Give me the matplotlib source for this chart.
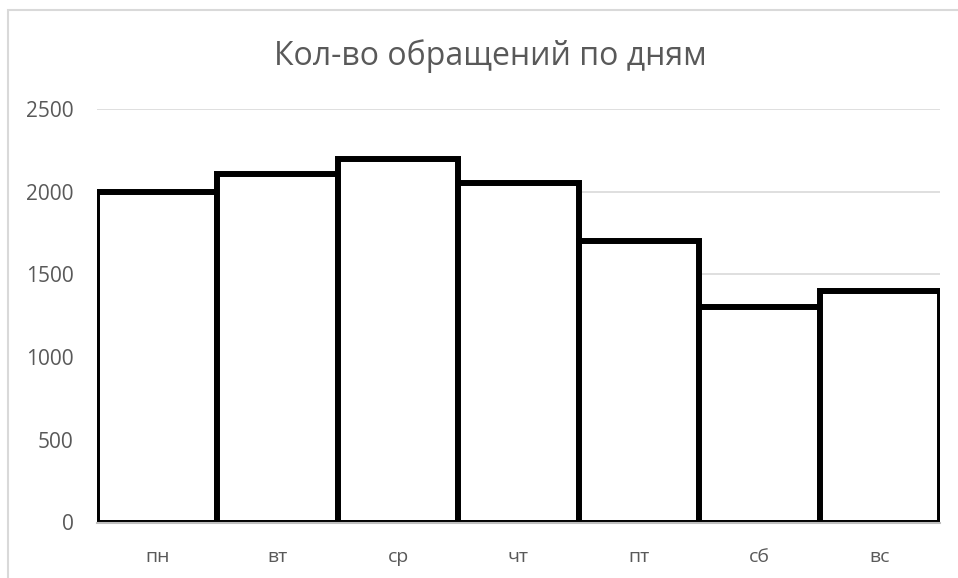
import matplotlib
matplotlib.use("Agg")
import matplotlib.pyplot as plt
from matplotlib.patches import Rectangle

plt.rcParams['font.family'] = ['Open Sans', 'DejaVu Sans']

days = ['пн', 'вт', 'ср', 'чт', 'пт', 'сб', 'вс']
calls = [2000, 2110, 2200, 2050, 1700, 1300, 1400]
y_ticks = [0, 500, 1000, 1500, 2000, 2500]

grey_text = '#595959'

fig = plt.figure(figsize=(9.58, 5.78), dpi=100)
# рамка области диаграммы
fig.patches.append(Rectangle((8 / 958, -0.1), 1.2, (578 - 10) / 578 + 0.1,
                             transform=fig.transFigure, fill=False,
                             edgecolor='#d9d9d9', linewidth=1.5, zorder=0))

ax = fig.add_axes([97 / 958, (578 - 522.5) / 578, (940 - 97) / 958, (522.5 - 109) / 578])

ax.bar(range(len(days)), calls, width=1.0, color='white', edgecolor='black',
       linewidth=4.3, zorder=3)

ax.set_xlim(-0.5, 6.5)
ax.set_ylim(0, 2500)
ax.set_yticks(y_ticks)
ax.set_xticks(range(len(days)))
ax.set_xticklabels(days)
ax.grid(axis='y', color='#d9d9d9', linewidth=1.2, zorder=0)
ax.set_axisbelow(True)

for s in ['top', 'right', 'left']:
    ax.spines[s].set_visible(False)
ax.spines['bottom'].set_color('#bfbfbf')
ax.spines['bottom'].set_linewidth(1.5)
ax.spines['bottom'].set_zorder(4)

ax.tick_params(axis='both', length=0, colors=grey_text)
ax.tick_params(axis='y', pad=17, labelsize=15)
ax.tick_params(axis='x', pad=18, labelsize=14)

fig.text(490 / 958, 1 - 56 / 578, 'Кол-во обращений по дням', ha='center', va='center',
         fontsize=23, color=grey_text)

fig.savefig('out.png', dpi=100)
